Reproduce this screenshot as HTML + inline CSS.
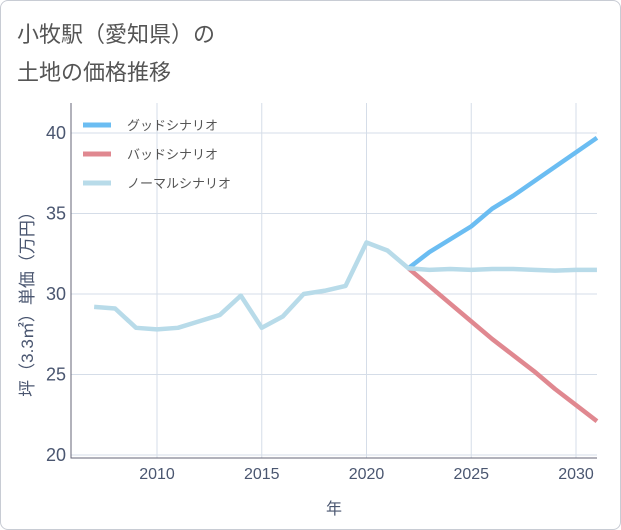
<!DOCTYPE html>
<html><head><meta charset="utf-8">
<style>
body{margin:0;background:#fff;}
#wrap{position:relative;width:619px;height:528px;border:1px solid #c8ccd4;border-radius:8px;overflow:hidden;font-family:"Liberation Sans","Noto Sans CJK JP",sans-serif;}
.t{position:absolute;left:16px;font-size:22px;color:#555;}
</style></head><body>
<div id="wrap">
<div class="t" style="top:16px">小牧駅（愛知県）の</div>
<div class="t" style="top:54px">土地の価格推移</div>
<svg id="chart" width="621" height="530" style="position:absolute;left:-1px;top:-1px"></svg>
</div>
<script>
const years=[2007,2008,2009,2010,2011,2012,2013,2014,2015,2016,2017,2018,2019,2020,2021,2022];
const normalHist=[29.2,29.1,27.9,27.8,27.9,28.3,28.7,29.9,27.9,28.6,30.0,30.2,30.5,33.2,32.7,31.6];
const futureYears=[2022,2023,2024,2025,2026,2027,2028,2029,2030,2031];
const goodVals=[31.6,32.6,33.4,34.2,35.3,36.1,37.0,37.9,38.8,39.7];
const badVals=[31.6,30.5,29.4,28.3,27.2,26.2,25.2,24.1,23.1,22.1];
const normalFut=[31.6,31.5,31.55,31.5,31.55,31.55,31.5,31.45,31.5,31.5];
const xTicks=[2010,2015,2020,2025,2030];
const yTicks=[20,25,30,35,40];
const legendLabels=["グッドシナリオ","バッドシナリオ","ノーマルシナリオ"];
const colors=["#6bbdf2","#e08890","#b8dbe9"];
const NS="http://www.w3.org/2000/svg";
const svg=document.getElementById('chart');
const L=71,R=597,T=103,B=458;
const x=v=>157+(v-2010)*20.95;
const y=v=>455-(v-20)*16.1;
function mk(tag,attrs){const e=document.createElementNS(NS,tag);for(const k in attrs)e.setAttribute(k,attrs[k]);svg.appendChild(e);return e;}
xTicks.forEach(t=>{const g=mk('line',{x1:x(t),x2:x(t),y1:T,y2:B,stroke:'#d5dde8','stroke-width':1});


const tx=mk('text',{x:x(t),y:B+21,'text-anchor':'middle','font-size':16,fill:'#4a5670'});tx.textContent=t;

});
yTicks.forEach(t=>{const g=mk('line',{x1:L,x2:R,y1:y(t),y2:y(t),stroke:'#d5dde8','stroke-width':1});


const tx=mk('text',{x:L-5,y:y(t)+6,'text-anchor':'end','font-size':18,fill:'#4a5670'});tx.textContent=t;

});
const ax=mk('path',{d:`M${L},${T}V${B}H${R}`,fill:'none',stroke:'#667','stroke-width':1});


function line(xs,vs,c,name){const p=mk('polyline',{points:xs.map((a,i)=>x(a)+','+y(vs[i])).join(' '),fill:'none',stroke:c,'stroke-width':4.5,'stroke-linejoin':'round'});

}
line(futureYears,badVals,colors[1],'bad-scenario-line');
line(futureYears,goodVals,colors[0],'good-scenario-line');
line(years.concat(futureYears.slice(1)),normalHist.concat(normalFut.slice(1)),colors[2],'normal-scenario-line');
const xl=mk('text',{x:334,y:514,'text-anchor':'middle','font-size':16,fill:'#4a5670'});xl.textContent='年';


const yl=mk('text',{x:0,y:0,'text-anchor':'middle','font-size':17,fill:'#4a5670',transform:'translate(33,300) rotate(-90)'});yl.textContent='坪（3.3㎡）単価（万円）';


legendLabels.forEach((s,i)=>{const ly=125+i*29;
const l=mk('line',{x1:83,x2:111,y1:ly,y2:ly,stroke:colors[i],'stroke-width':5});


const tx=mk('text',{x:127,y:ly+5,'font-size':13,fill:'#555'});tx.textContent=s;

});
</script>
</body></html>
